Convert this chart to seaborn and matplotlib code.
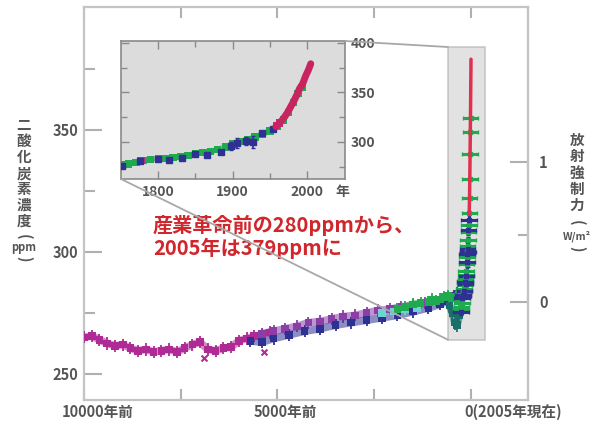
import numpy as np
import seaborn as sns
import matplotlib.pyplot as plt
from matplotlib.patches import Rectangle, ConnectionPatch
from matplotlib.ticker import FixedLocator
from matplotlib.transforms import ScaledTranslation

# ---------------- data (years relative to 2005, CO2 in ppm) ----------------
mag_t = [-10000, -9800, -9600, -9400, -9200, -9000, -8800, -8600, -8400, -8200,
         -8000, -7800, -7600, -7400, -7200, -7000, -6800, -6600, -6400, -6200,
         -6000, -5800, -5600, -5400, -5200]
mag_c = [265, 265.5, 264, 262.5, 261.5, 262, 260.5, 259.5, 260, 259,
         259.5, 260, 259, 260.5, 262, 263, 260, 259.5, 260.5, 261,
         263.5, 264.5, 265.5, 266, 267]
mag_x_t = [-6900, -5350]
mag_x_c = [256.5, 259]

purple_t = [-5400, -5100, -4800, -4500, -4200, -3900, -3600, -3300, -3000, -2700,
            -2400, -2100, -1800, -1500, -1200]
purple_c = [266.5, 267.5, 268.5, 269.5, 271, 271.5, 272.5, 273.5, 274, 275,
            276, 276.5, 277.5, 278, 279]

blue_t = [-5700, -5400, -5100, -4700, -4300, -3900, -3500, -3100, -2700, -2300,
          -1900, -1500, -1100, -800, -600, -450, -350]
blue_c = [263.5, 263, 264.5, 266, 267.5, 268.5, 270, 271, 272, 273,
          274, 275.5, 277, 278.5, 280, 282, 283]

cyan_t = [-2300, -2000, -1700, -1400]
cyan_c = [275, 275.5, 276.5, 277]

teal_t = [-560, -480, -420, -360, -300]
teal_c = [278, 275, 271, 270, 274]

green_t = [-1900, -1700, -1500, -1300, -1100, -1000, -900, -800, -700, -600,
           -500, -400, -300]
green_c = [276.5, 277.5, 278.5, 279, 279.5, 280.5, 280, 280.5, 281.5, 282,
           281, 281.5, 280]

# industrial era (calendar years) - inset and the spike of the main chart
gin_yr = [1750, 1760, 1770, 1780, 1790, 1800, 1810, 1820, 1830, 1840, 1850, 1860,
          1870, 1880, 1890, 1900, 1910, 1920, 1930, 1940, 1950, 1960, 1968, 1975,
          1982, 1988, 1993]
gin_c = [276.5, 277.5, 279, 281, 282.5, 283.5, 283.5, 284, 285, 286.5, 288, 289,
         290.5, 292, 295, 298, 300.5, 302.5, 305, 308, 311, 316, 322, 330,
         340, 349, 355]

bin_yr = [1752, 1776, 1800, 1815, 1832, 1850, 1866, 1884, 1898, 1906, 1918, 1927,
          1940, 1954]
bin_c = [275.5, 281, 282.5, 282, 284, 287.5, 287, 290, 296, 299, 301, 300, 309, 313]
bin_err = [1.5, 1.5, 1.5, 1.5, 1.5, 1.5, 1.5, 2, 4, 5, 4, 6, 2, 2]

min_yr = [1777, 1959, 1963]
min_c = [281.5, 316.5, 319]

red_yr = [1958, 1962, 1966, 1970, 1974, 1978, 1982, 1986, 1990, 1994, 1998, 2002, 2005]
red_c = [315.5, 318.5, 321.5, 325.5, 330, 335.5, 341, 347, 354, 358.5, 366.5, 373, 379]

x_ticks = [-10000, -5000, 0]
x_labels = ["10000年前", "5000年前", "0(2005年現在)"]

C_MAG, C_PUR, C_BLU = "#b02a95", "#8a3fa6", "#2e3192"
C_GRN, C_CYA, C_TEA, C_RED = "#1faa4f", "#6fd3d3", "#1b6f6a", "#e0304e"
GRAY_TXT = "#555555"

sns.set_theme(style="white")
plt.rcParams['font.family'] = ['Noto Sans CJK JP', 'DejaVu Sans']

fig = plt.figure(figsize=(5.9, 4.21), dpi=100)
ax = fig.add_axes([84 / 590, 21 / 421, 444 / 590, 393 / 421])


def draw(axis, t, c, color, err=2.5, ms=30, lw=5.5):
    sns.lineplot(x=t, y=c, ax=axis, color=color, lw=lw, alpha=0.55, zorder=3)
    axis.errorbar(t, c, yerr=err, fmt="none", ecolor=color, elinewidth=1.3, zorder=3)
    sns.scatterplot(x=t, y=c, ax=axis, color=color, marker="s", s=ms,
                    edgecolor="none", zorder=4)


# zoom box behind the data
zoom_t0, zoom_t1, zoom_c0, zoom_c1 = -594, 362, 264, 384
ax.add_patch(Rectangle((zoom_t0, zoom_c0), zoom_t1 - zoom_t0, zoom_c1 - zoom_c0,
                       facecolor="#d6d6d6", edgecolor="#b5b5b5", lw=1.2,
                       alpha=0.7, zorder=1))

draw(ax, mag_t, mag_c, C_MAG)
ax.scatter(mag_x_t, mag_x_c, marker="x", color=C_MAG, s=18, lw=1.5, zorder=4)
draw(ax, purple_t, purple_c, C_PUR)
draw(ax, blue_t, blue_c, C_BLU)
draw(ax, cyan_t, cyan_c, C_CYA, lw=4)
draw(ax, green_t, green_c, C_GRN)
draw(ax, teal_t, teal_c, C_TEA, err=3)

# industrial spike on the main axis
g_t = [y - 2005 for y in gin_yr]
b_t = [y - 2005 for y in bin_yr]
r_t = [y - 2005 for y in red_yr]
ax.errorbar(g_t, gin_c, xerr=200, fmt="s", ms=2.5, color=C_GRN, elinewidth=2.2,
            capsize=1.5, zorder=5)
ax.errorbar(b_t, bin_c, xerr=200, yerr=bin_err, fmt="s", ms=2.5, color=C_BLU,
            elinewidth=2.2, capsize=1.5, zorder=5)
sns.lineplot(x=r_t, y=red_c, ax=ax, color=C_RED, lw=2.5, zorder=6)

ax.set_xlim(-10000, 1473)
ax.set_ylim(239.3, 400.4)
ax.set_xticks(x_ticks)
ax.set_xticklabels(x_labels)
ax.xaxis.set_minor_locator(FixedLocator([-7500, -2500]))
ax.set_yticks([250, 300, 350])
ax.yaxis.set_minor_locator(FixedLocator([275, 325, 375]))
ax.set_xlabel("")
ax.set_ylabel("")
for s in ax.spines.values():
    s.set_color("#c4c4c4")
    s.set_linewidth(1.6)
ax.tick_params(axis="x", which="both", direction="in", length=8, width=1.5,
               color="#b0b0b0", top=True, bottom=True, pad=3)
ax.tick_params(axis="y", which="major", direction="in", length=13, width=1.5,
               color="#b0b0b0", left=True, right=False, pad=4)
ax.tick_params(axis="y", which="minor", direction="in", length=8, width=1.5,
               color="#b0b0b0", left=True, right=False)
for lab in ax.get_xticklabels() + ax.get_yticklabels():
    lab.set_color(GRAY_TXT)
    lab.set_fontweight("bold")
    lab.set_fontsize(10.5)
x_shift = [14, 8, -7]
x_align = ["center", "center", "left"]
for lab, dx, ha in zip(ax.get_xticklabels(), x_shift, x_align):
    lab.set_ha(ha)
    lab.set_transform(lab.get_transform() + ScaledTranslation(dx / 100, 0, fig.dpi_scale_trans))


# radiative forcing axis
def c2f(c):
    return 5.35 * np.log(np.clip(c, 1e-6, None) / 279.5)


def f2c(f):
    return 279.5 * np.exp(np.asarray(f) / 5.35)


ax2 = ax.secondary_yaxis("right", functions=(c2f, f2c))
ax2.set_yticks([0, 1])
ax2.set_yticklabels(["0", "1"])
ax2.yaxis.set_minor_locator(FixedLocator([0.5]))
ax2.spines["right"].set_color("#c4c4c4")
ax2.spines["right"].set_linewidth(1.6)
ax2.tick_params(which="major", direction="in", length=13, width=1.5, color="#b0b0b0", pad=8)
ax2.tick_params(which="minor", direction="in", length=7, width=1.5, color="#b0b0b0")
for lab in ax2.get_yticklabels():
    lab.set_color(GRAY_TXT)
    lab.set_fontweight("bold")
    lab.set_fontsize(10.5)


# vertical (tategaki) axis titles, one row per glyph; parentheses turned sideways
def vlabel(xc, rows):
    for txt, yc, fs in rows:
        rot = -90 if txt in "()" else 0
        fig.text(xc / 590, 1 - yc / 421, txt, ha="center", va="center", rotation=rot,
                 fontsize=fs, fontweight="bold", color=GRAY_TXT)


vlabel(24, [(ch, 125 + 16 * i, 10.5) for i, ch in enumerate("二酸化炭素濃度")]
       + [("(", 237, 10.5), ("ppm", 248, 8), (")", 259, 10.5)])
vlabel(577, [(ch, 140 + 16.3 * i, 10.5) for i, ch in enumerate("放射強制力")]
       + [("(", 223, 10.5), ("W/m²", 236, 7.5), (")", 249, 10.5)])

# annotation
ax.text(0.155, 0.47, "産業革命前の280ppmから、\n2005年は379ppmに", transform=ax.transAxes,
        ha="left", va="top", fontsize=14.5, fontweight="bold", color="#d0262c",
        linespacing=1.08, zorder=8)

# ---------------- inset ----------------
ax_in = fig.add_axes([121 / 590, 242 / 421, 224 / 590, 138 / 421])
ax_in.set_facecolor("#dcdcdc")
draw(ax_in, gin_yr, gin_c, C_GRN, err=1.0, ms=28, lw=4)
ax_in.errorbar(bin_yr, bin_c, yerr=bin_err, fmt="s", ms=4, color=C_BLU,
               elinewidth=1.2, capsize=1.5, zorder=5)
sns.scatterplot(x=min_yr, y=min_c, ax=ax_in, color="#d0258a", marker="s", s=28,
                edgecolor="none", zorder=5)
sns.lineplot(x=red_yr, y=red_c, ax=ax_in, color="#c9245f", lw=5, zorder=6)
ax_in.set_xlim(1750, 2051)
ax_in.set_ylim(262.5, 402)
ax_in.set_xticks([1800, 1900, 2000])
ax_in.xaxis.set_minor_locator(FixedLocator([1850, 1950]))
ax_in.set_yticks([300, 350, 400])
ax_in.yaxis.set_minor_locator(FixedLocator([275, 325, 375]))
ax_in.yaxis.tick_right()
ax_in.set_xlabel("")
ax_in.set_ylabel("")
ax_in.tick_params(which="both", direction="in", color="#8a8a8a", width=1,
                  top=True, bottom=True, left=True, right=True)
ax_in.tick_params(which="major", length=6, pad=4)
ax_in.tick_params(which="minor", length=4)
for s in ax_in.spines.values():
    s.set_color("#8a8a8a")
    s.set_linewidth(1.2)
for lab in ax_in.get_xticklabels() + ax_in.get_yticklabels():
    lab.set_color(GRAY_TXT)
    lab.set_fontweight("bold")
    lab.set_fontsize(10)
ax_in.text(0.99, -0.045, "年", transform=ax_in.transAxes, ha="center", va="top",
           fontsize=10, fontweight="bold", color=GRAY_TXT)

# connector lines from inset to zoom box
for xa, ya, cb in [(0, 0, zoom_c0), (1, 1, zoom_c1)]:
    con = ConnectionPatch(xyA=(xa, ya), coordsA=ax_in.transAxes,
                          xyB=(zoom_t0, cb), coordsB=ax.transData,
                          color="#a8a8a8", lw=1.3, zorder=1)
    fig.add_artist(con)

fig.savefig("out.png", dpi=100)
